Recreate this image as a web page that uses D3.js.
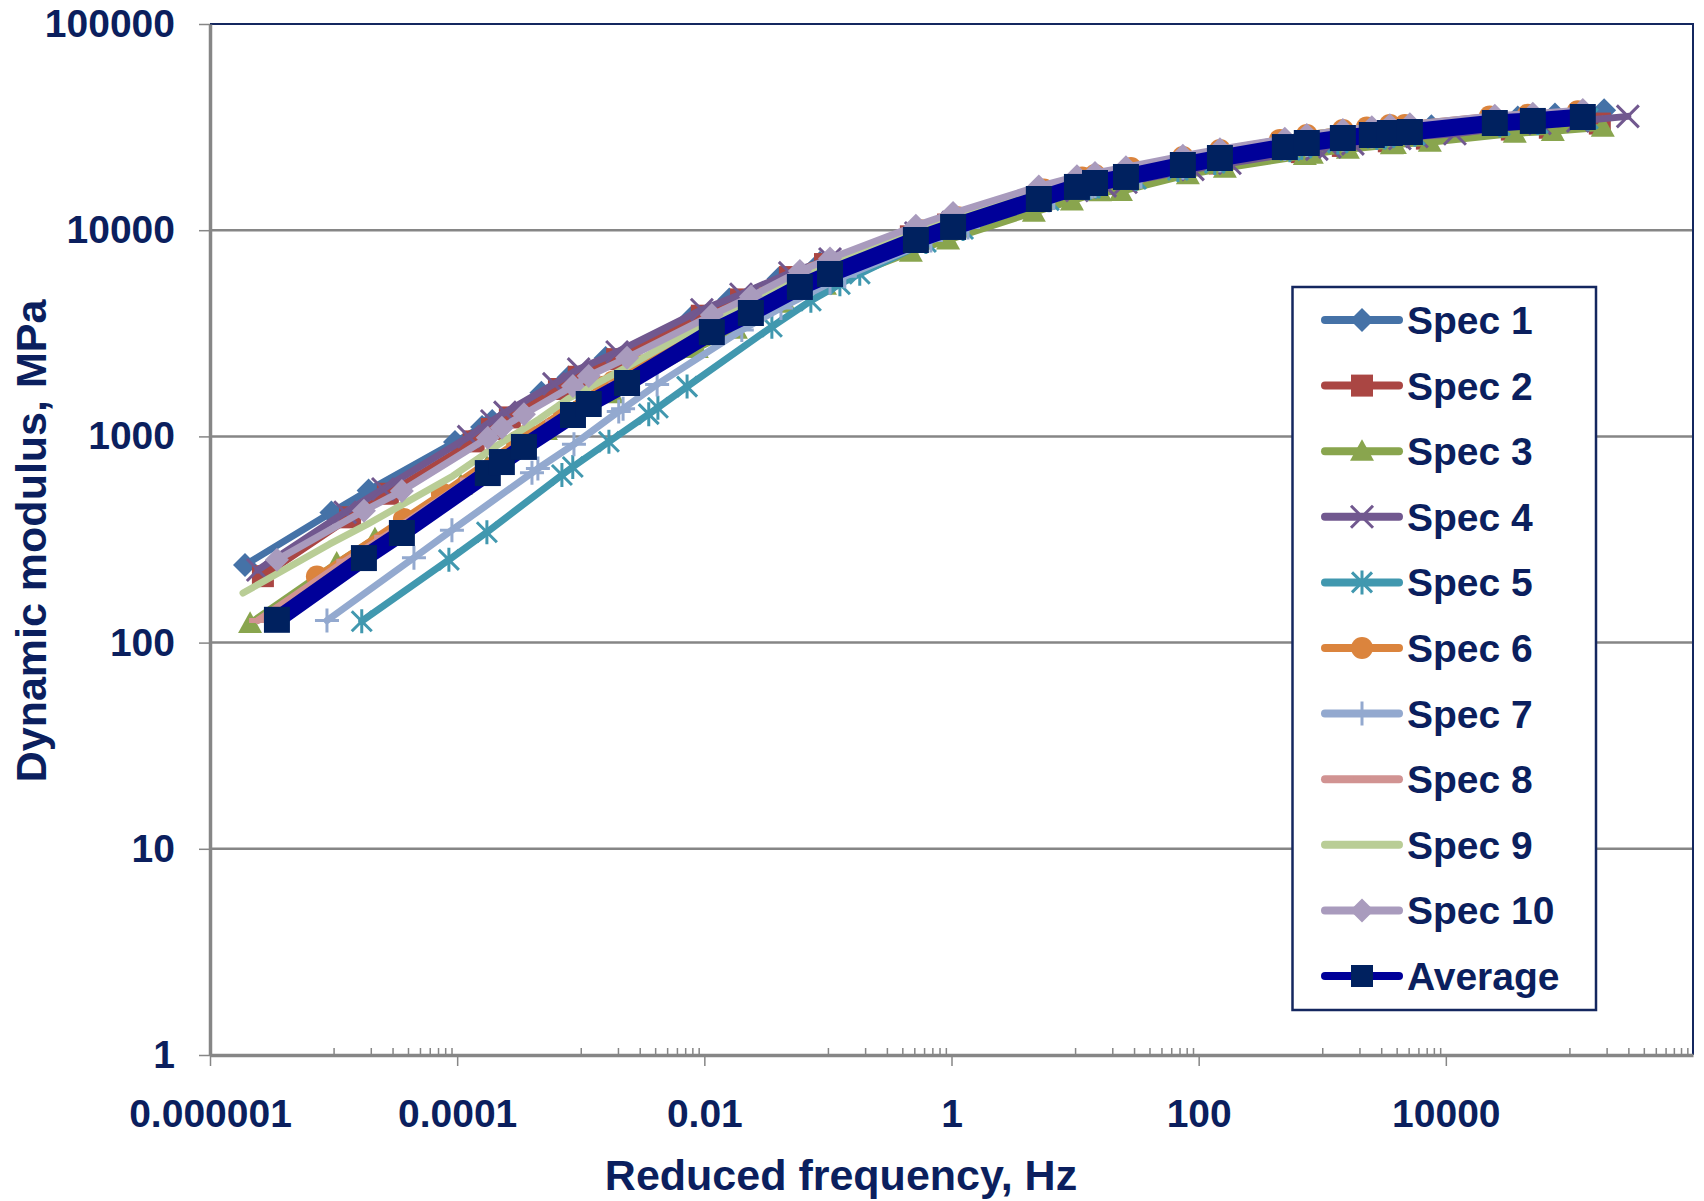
<!DOCTYPE html>
<html>
<head>
<meta charset="utf-8" />
<title>Dynamic modulus master curves</title>
<script src="https://cdn.jsdelivr.net/npm/d3@7"></script>
<style>
  body { margin: 0; background: #fff; }
  svg text { font-family: "Liberation Sans", Arial, sans-serif; font-weight: bold; fill: #0b1f5e; }
</style>
</head>
<body>
<svg id="chart" width="1704" height="1201"></svg>
<script>
// reduced frequency (Hz) and dynamic modulus (MPa) for each specimen
var spec1Freq = [1.92e-6, 9.6e-6, 1.92e-5, 9.6e-5, 1.92e-4, 4.8e-4, 1.59e-4, 7.95e-4, 1.59e-3, 7.95e-3, 0.0159, 0.0398,
  0.0861, 0.431, 0.861, 4.31, 8.61, 21.5, 15.9, 79.5, 159, 795, 1590, 3975, 764, 3820, 7640, 38200, 76400, 191000];
var spec1Mod = [238, 427, 547, 940, 1189, 1626, 1111, 1928, 2399, 3793, 4613, 5808,
  6925, 9354, 10770, 14420, 16300, 18330, 17710, 21530, 23220, 27290, 28960, 30700, 27100, 30700, 31910, 35160, 36370, 38190];

var spec2Freq = [2.68e-6, 1.36e-5, 2.75e-5, 1.36e-4, 2.67e-4, 6.66e-4, 1.91e-4, 9.63e-4, 1.97e-3, 9.55e-3, 0.0198, 0.0492,
  0.0947, 0.469, 0.938, 4.64, 9.43, 23.5, 14.5, 74.5, 148.6, 750, 1468, 3524, 684, 3457, 7026, 34190, 69450, 176200];
var spec2Mod = [210, 405, 527, 946, 1236, 1698, 1087, 1947, 2370, 3849, 4617, 5926,
  6852, 9340, 10650, 14020, 15800, 17410, 16600, 19700, 21050, 24230, 25620, 27090, 23920, 26990, 27810, 30760, 31400, 32890];

var spec3Freq = [2.11e-6, 1.06e-5, 2.16e-5, 1.07e-4, 2.10e-4, 5.23e-4, 1.74e-4, 8.77e-4, 1.79e-3, 8.69e-3, 0.018, 0.0448,
  0.0947, 0.469, 0.938, 4.64, 9.43, 23.5, 15.9, 81.8, 163, 823, 1612, 3869, 723, 3654, 7425, 36130, 73390, 186200];
var spec3Mod = [124, 243, 319, 580, 768, 1068, 710, 1304, 1610, 2675, 3316, 4424,
  5410, 7825, 8980, 12230, 13870, 15410, 15370, 18590, 20000, 23400, 24720, 26050, 23040, 25970, 26720, 29550, 30160, 31600];

var spec4Freq = [2.44e-6, 1.24e-5, 2.51e-5, 1.24e-4, 2.44e-4, 6.07e-4, 1.91e-4, 9.63e-4, 1.97e-3, 9.55e-3, 0.0198, 0.0492,
  0.104, 0.515, 1.03, 5.09, 10.35, 25.8, 17.5, 89.8, 179, 904, 1769, 4246, 1152, 5827, 11840, 57620, 117000, 296900];
var spec4Mod = [225, 429, 556, 997, 1307, 1797, 1188, 2120, 2568, 4115, 4894, 6207,
  7250, 9689, 10920, 14015, 15590, 17070, 16400, 19720, 21130, 24730, 26210, 27830, 25360, 28470, 29340, 32970, 33870, 35650];

var spec5Freq = [1.69e-5, 8.57e-5, 1.74e-4, 8.62e-4, 1.69e-3, 4.21e-3, 7.04e-4, 3.55e-3, 7.25e-3, 0.0352, 0.0728, 0.181,
  0.125, 0.621, 1.24, 6.13, 12.5, 31.1, 13.2, 67.9, 135, 683, 1337, 3210, 547, 2765, 5618, 27340, 55540, 140900];
var spec5Mod = [127, 252, 343, 711, 942, 1378, 650, 1282, 1744, 3401, 4550, 6148,
  5472, 8766, 10140, 13970, 15960, 17720, 16010, 19590, 21200, 25100, 26600, 28190, 24450, 28000, 29010, 32280, 33090, 34760];

var spec6Freq = [7.33e-6, 3.71e-5, 7.52e-5, 3.73e-4, 7.31e-4, 1.82e-3, 3.04e-4, 1.53e-3, 3.13e-3, 0.0152, 0.0315, 0.0784,
  0.114, 0.565, 1.13, 5.59, 11.4, 28.3, 14.5, 74.5, 148.6, 750, 1468, 3524, 454, 2294, 4662, 22680, 46080, 116900];
var spec6Mod = [209, 398, 528, 1019, 1321, 1840, 939, 1742, 2209, 3806, 4743, 6237,
  6864, 10000, 11550, 15770, 17990, 20040, 18520, 22640, 24470, 28940, 30600, 32360, 27410, 31480, 32370, 35560, 36310, 37770];

var spec7Freq = [8.84e-6, 4.47e-5, 9.07e-5, 4.5e-4, 8.81e-4, 2.2e-3, 4.03e-4, 2.03e-3, 4.15e-3, 0.0201, 0.0417, 0.104,
  0.137, 0.681, 1.36, 6.73, 13.7, 34.1, 14.5, 74.5, 148.6, 750, 1468, 3524, 498, 2518, 5117, 24900, 50580, 128300];
var spec7Mod = [128, 258, 351, 699, 915, 1362, 666, 1322, 1787, 3281, 4200, 5559,
  5977, 8910, 10320, 14330, 16240, 18170, 16380, 20090, 21770, 25900, 27520, 29220, 24780, 28500, 29580, 32880, 33720, 35010];

var spec8Freq = [2.44e-6, 1.24e-5, 2.51e-5, 1.24e-4, 2.44e-4, 6.07e-4, 1.91e-4, 9.63e-4, 1.97e-3, 9.55e-3, 0.0198, 0.0492,
  0.104, 0.515, 1.03, 5.09, 10.35, 25.8, 14.5, 74.5, 148.6, 750, 1468, 3524, 498, 2518, 5117, 24900, 50580, 128300];
var spec8Mod = [128, 248, 324, 614, 825, 1177, 743, 1425, 1795, 3156, 3910, 5230,
  6373, 9268, 10720, 14640, 16730, 18680, 17470, 21330, 23020, 27200, 28760, 30380, 25990, 29710, 30720, 33900, 34680, 36210];

var spec9Freq = [1.85e-6, 9.25e-6, 1.85e-5, 9.25e-5, 1.85e-4, 4.63e-4, 1.58e-4, 7.9e-4, 1.58e-3, 7.9e-3, 0.0158, 0.0395,
  0.0947, 0.469, 0.938, 4.64, 9.43, 23.5, 14.5, 74.5, 148.6, 750, 1468, 3524, 547, 2765, 5618, 27340, 55540, 140900];
var spec9Mod = [174, 300, 373, 643, 861, 1215, 803, 1522, 1900, 3255, 4037, 5363,
  6661, 9608, 11060, 14990, 17130, 19200, 18110, 22350, 24270, 28940, 30580, 32250, 27940, 31650, 32600, 35830, 36510, 38020];

var spec10Freq = [3.48e-6, 1.76e-5, 3.57e-5, 1.77e-4, 2.30e-4, 3.47e-4, 8.65e-4, 1.16e-3, 2.37e-3, 0.0115, 0.0238, 0.0593,
  0.104, 0.515, 1.03, 5.09, 10.35, 14.5, 25.8, 74.5, 148.6, 498, 750, 1468, 2518, 3524, 5117, 24900, 50580, 128300];
var spec10Mod = [252, 436, 543, 986, 1102, 1281, 1758, 1963, 2405, 3877, 4767, 6334,
  7293, 10520, 12120, 16310, 18250, 18960, 20190, 22950, 24700, 27740, 28940, 30580, 31590, 32270, 32600, 35920, 36720, 38270];

var avgFreq = [3.48e-6, 1.76e-5, 3.57e-5, 1.77e-4, 2.30e-4, 3.47e-4, 8.65e-4, 1.16e-3, 2.37e-3, 0.0115, 0.0238, 0.0593,
  0.104, 0.515, 1.03, 5.09, 10.35, 14.5, 25.8, 74.5, 148.6, 498, 750, 1468, 2518, 3524, 5117, 24900, 50580, 128300];
var avgMod = [129, 257, 340, 664, 751, 889, 1270, 1436, 1815, 3207, 3966, 5305,
  6134, 8963, 10370, 14170, 16210, 16940, 18120, 20710, 22390, 25310, 26480, 28000, 28960, 29610, 29940, 33110, 33870, 35400];

var seriesNames = ["Spec 1", "Spec 2", "Spec 3", "Spec 4", "Spec 5", "Spec 6", "Spec 7", "Spec 8", "Spec 9", "Spec 10", "Average"];
var xTickValues = [1e-6, 1e-4, 1e-2, 1, 100, 10000];
var yTickValues = [1, 10, 100, 1000, 10000, 100000];

// look of each series
var styles = [
  { color: "#4572a7", marker: "diamond" },
  { color: "#aa4643", marker: "square" },
  { color: "#89a54e", marker: "triangle" },
  { color: "#71588f", marker: "x" },
  { color: "#4198af", marker: "star" },
  { color: "#db843d", marker: "circle" },
  { color: "#93a9cf", marker: "plus" },
  { color: "#d19392", marker: "dash" },
  { color: "#b9cd96", marker: "none" },
  { color: "#a99bbd", marker: "diamond" },
  { color: "#000099", marker: "square", markerColor: "#00215f", width: 17, size: 13 }
];

var freqs = [spec1Freq, spec2Freq, spec3Freq, spec4Freq, spec5Freq, spec6Freq, spec7Freq, spec8Freq, spec9Freq, spec10Freq, avgFreq];
var mods = [spec1Mod, spec2Mod, spec3Mod, spec4Mod, spec5Mod, spec6Mod, spec7Mod, spec8Mod, spec9Mod, spec10Mod, avgMod];

var series = seriesNames.map(function (name, i) {
  var pts = d3.zip(freqs[i], mods[i]).sort(function (a, b) { return a[0] - b[0]; });
  return { name: name, points: pts, style: styles[i] };
});

var plotLeft = 210, plotRight = 1693, plotTop = 24, plotBottom = 1055;
var x = d3.scaleLog().domain([1e-6, 1e6]).range([plotLeft, plotRight]);
var y = d3.scaleLog().domain([1, 100000]).range([plotBottom, plotTop]);

var svg = d3.select("#chart");

// horizontal gridlines
svg.append("g").selectAll("line")
  .data(yTickValues.slice(1, -1))
  .enter().append("line")
  .attr("x1", plotLeft).attr("x2", plotRight)
  .attr("y1", function (d) { return y(d); }).attr("y2", function (d) { return y(d); })
  .attr("stroke", "#868686").attr("stroke-width", 2.5);

// plot area border (top and right)
svg.append("path")
  .attr("d", "M" + plotLeft + "," + plotTop + "H" + plotRight + "V" + plotBottom)
  .attr("fill", "none").attr("stroke", "#14275f").attr("stroke-width", 2);

// minor ticks on x axis, every other decade, pointing inwards
var minorTicks = [];
[-5, -3, -1, 1, 3, 5].forEach(function (e) {
  for (var k = 1; k <= 9; k++) minorTicks.push(k * Math.pow(10, e));
});
var xMinor = svg.append("g").attr("transform", "translate(0," + plotBottom + ")")
  .call(d3.axisBottom(x).tickValues(minorTicks).tickSize(-7).tickSizeOuter(0).tickFormat(""));
xMinor.select(".domain").remove();
xMinor.selectAll("line").attr("stroke", "#868686").attr("stroke-width", 1.5);

var xAxis = svg.append("g").attr("transform", "translate(0," + plotBottom + ")")
  .call(d3.axisBottom(x).tickValues(xTickValues).tickSize(11).tickSizeOuter(0).tickPadding(33)
    .tickFormat(d3.format(".6~f")));
xAxis.select(".domain").attr("stroke", "#868686").attr("stroke-width", 3.5);
xAxis.selectAll("line").attr("stroke", "#868686").attr("stroke-width", 1.5);
xAxis.selectAll("text").attr("font-size", 39).attr("font-family", null);

var yAxis = svg.append("g").attr("transform", "translate(" + plotLeft + ",0)")
  .call(d3.axisLeft(y).tickValues(yTickValues).tickSize(11).tickSizeOuter(0).tickPadding(24)
    .tickFormat(d3.format("d")));
yAxis.select(".domain").attr("stroke", "#868686").attr("stroke-width", 3.5);
yAxis.selectAll("line").attr("stroke", "#868686").attr("stroke-width", 1.5);
yAxis.selectAll("text").attr("font-size", 39).attr("font-family", null);

// marker shapes
function markerPath(type, r) {
  if (type === "diamond") return "M0," + (-r) + "L" + r + ",0L0," + r + "L" + (-r) + ",0Z";
  if (type === "square") return "M" + (-r) + "," + (-r) + "h" + (2 * r) + "v" + (2 * r) + "h" + (-2 * r) + "Z";
  if (type === "triangle") return "M0," + (-r) + "L" + r + "," + (r * 0.8) + "L" + (-r) + "," + (r * 0.8) + "Z";
  if (type === "circle") return d3.symbol(d3.symbolCircle, Math.PI * r * r)();
  if (type === "x") return "M" + (-r) + "," + (-r) + "L" + r + "," + r + "M" + (-r) + "," + r + "L" + r + "," + (-r);
  if (type === "star") return "M" + (-r) + "," + (-r) + "L" + r + "," + r + "M" + (-r) + "," + r + "L" + r + "," + (-r) + "M0," + (-r * 1.2) + "V" + (r * 1.2);
  if (type === "plus") return "M0," + (-r) + "V" + r + "M" + (-r) + ",0H" + r;
  if (type === "dash") return "M" + (-r * 0.8) + ",0H" + (r * 0.8);
  return "";
}
var strokedMarkers = { x: true, star: true, plus: true, dash: true };
var markerSizes = { diamond: 12, square: 11, triangle: 12, circle: 11, x: 11, star: 10, plus: 12, dash: 11 };

function drawMarker(sel, st) {
  var r = st.size || markerSizes[st.marker];
  var c = st.markerColor || st.color;
  sel.attr("d", markerPath(st.marker, r));
  if (strokedMarkers[st.marker]) {
    sel.attr("fill", "none").attr("stroke", c).attr("stroke-width", st.marker === "dash" ? 5 : 3);
  } else {
    sel.attr("fill", c).attr("stroke", "none");
  }
}

var line = d3.line()
  .x(function (d) { return x(d[0]); })
  .y(function (d) { return y(d[1]); });

series.forEach(function (s) {
  var g = svg.append("g");
  g.append("path")
    .attr("d", line(s.points))
    .attr("fill", "none")
    .attr("stroke", s.style.color)
    .attr("stroke-width", s.style.width || 7)
    .attr("stroke-linejoin", "round")
    .attr("stroke-linecap", "round");
  if (s.style.marker !== "none") {
    g.selectAll("path.m").data(s.points).enter().append("path")
      .attr("class", "m")
      .attr("transform", function (d) { return "translate(" + x(d[0]) + "," + y(d[1]) + ")"; })
      .call(drawMarker, s.style);
  }
});

// legend
var legend = svg.append("g");
legend.append("rect")
  .attr("x", 1292.5).attr("y", 287).attr("width", 303.5).attr("height", 723)
  .attr("fill", "#fff").attr("stroke", "#14275f").attr("stroke-width", 2.5);
var items = legend.selectAll("g.item").data(series).enter().append("g")
  .attr("class", "item")
  .attr("transform", function (d, i) { return "translate(1362," + (320 + i * 65.6) + ")"; });
items.append("line")
  .attr("x1", -37).attr("x2", 37)
  .attr("stroke", function (d) { return d.style.color; })
  .attr("stroke-width", 8).attr("stroke-linecap", "round");
items.filter(function (d) { return d.style.marker !== "none"; })
  .append("path")
  .each(function (d) { d3.select(this).call(drawMarker, d.style.size ? Object.assign({}, d.style, { size: 11 }) : d.style); });
items.append("text")
  .attr("x", 45).attr("dy", "0.36em")
  .attr("font-size", 39)
  .text(function (d) { return d.name; });

// axis titles
svg.append("text")
  .attr("transform", "translate(46,541) rotate(-90)")
  .attr("text-anchor", "middle").attr("font-size", 43)
  .text("Dynamic modulus, MPa");
svg.append("text")
  .attr("x", 841).attr("y", 1190)
  .attr("text-anchor", "middle").attr("font-size", 43)
  .text("Reduced frequency, Hz");
</script>
</body>
</html>
